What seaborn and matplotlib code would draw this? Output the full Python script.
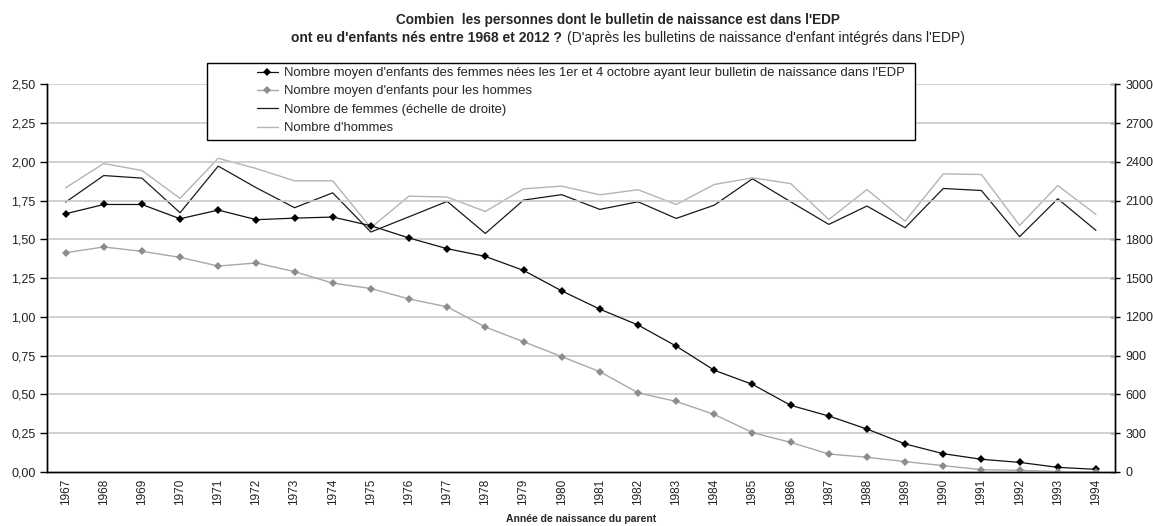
import numpy as np
import pandas as pd
import seaborn as sns
import matplotlib
matplotlib.use("Agg")
import matplotlib.pyplot as plt
import matplotlib.ticker as mtick
from matplotlib.patches import Rectangle

# ---------------------------------------------------------------------
# Data
# ---------------------------------------------------------------------
years = list(range(1967, 1995))

# average number of children (left axis)
women_mean = [1.665, 1.725, 1.725, 1.633, 1.689, 1.627, 1.637, 1.644, 1.588, 1.509,
              1.440, 1.390, 1.300, 1.168, 1.050, 0.948, 0.812, 0.656, 0.565, 0.430,
              0.361, 0.277, 0.181, 0.118, 0.082, 0.062, 0.030, 0.017]
men_mean = [1.414, 1.451, 1.423, 1.384, 1.328, 1.348, 1.292, 1.218, 1.183, 1.116,
            1.065, 0.935, 0.840, 0.744, 0.647, 0.511, 0.455, 0.371, 0.254, 0.191,
            0.116, 0.095, 0.067, 0.041, 0.015, 0.011, 0.003, 0.000]

# number of people (right axis)
women_count = [2088, 2294, 2274, 2006, 2367, 2199, 2045, 2160, 1857, 1975,
               2094, 1846, 2104, 2146, 2032, 2091, 1962, 2065, 2269, 2091,
               1916, 2058, 1890, 2194, 2178, 1821, 2114, 1870]
men_count = [2199, 2387, 2333, 2117, 2428, 2348, 2253, 2253, 1890, 2135,
             2127, 2016, 2191, 2212, 2145, 2184, 2070, 2225, 2276, 2232,
             1954, 2186, 1941, 2307, 2302, 1908, 2217, 1993]

labels = [
    "Nombre moyen d'enfants des femmes nées les 1er et 4 octobre ayant leur bulletin de naissance dans l'EDP",
    "Nombre moyen d'enfants pour les hommes",
    "Nombre de femmes (échelle de droite)",
    "Nombre d'hommes",
]

df = pd.DataFrame({
    "year": years,
    "women_mean": women_mean,
    "men_mean": men_mean,
    "women_count": women_count,
    "men_count": men_count,
})

# ---------------------------------------------------------------------
# Figure
# ---------------------------------------------------------------------
sns.set_style("white")
plt.rcParams["font.family"] = ["Liberation Sans", "DejaVu Sans"]

W, H = 1153, 526
fig = plt.figure(figsize=(W / 100, H / 100), dpi=100)
ax = fig.add_axes([46.5 / W, 1 - 472 / H, (1115 - 46.5) / W, (472 - 84.3) / H])
ax2 = ax.twinx()

# right axis series
sns.lineplot(data=df, x="year", y="women_count", ax=ax2, color="#1a1a1a",
             linewidth=0.9, label=labels[2], legend=False)
sns.lineplot(data=df, x="year", y="men_count", ax=ax2, color="#b4b4b4",
             linewidth=1.0, label=labels[3], legend=False)

# left axis series
sns.lineplot(data=df, x="year", y="women_mean", ax=ax, color="#111111",
             linewidth=0.9, marker="D", markersize=4, markeredgewidth=0,
             markerfacecolor="black", label=labels[0], legend=False)
sns.lineplot(data=df, x="year", y="men_mean", ax=ax, color="#a8a8a8",
             linewidth=1.0, marker="D", markersize=4, markeredgewidth=0,
             markerfacecolor="#8c8c8c", label=labels[1], legend=False)

# put the left axis (markers) above the twin axis
ax.set_zorder(ax2.get_zorder() + 1)
ax.patch.set_visible(False)

# Axis ranges / ticks
ax.set_xlim(1966.5, 1994.5)
ax.set_ylim(0, 2.5)
ax2.set_ylim(0, 3000)
ax.set_yticks(np.arange(0, 2.51, 0.25))
ax2.set_yticks(np.arange(0, 3001, 300))
ax.yaxis.set_major_formatter(mtick.FuncFormatter(lambda v, p: f"{v:.2f}".replace(".", ",")))

ax.set_xticks(years)
ax.set_xticklabels([str(y) for y in years], rotation=90)
ax.set_xticks(np.arange(1966.5, 1995, 1), minor=True)
ax.tick_params(axis="x", which="major", length=0, pad=5, labelsize=8.5, labelcolor="#222222")
ax.tick_params(axis="x", which="minor", length=5, width=1, direction="out", color="black")
ax.tick_params(axis="y", length=5, width=1, direction="out", color="black",
               labelsize=9, labelcolor="#222222", left=True, pad=3)
ax2.tick_params(axis="y", length=7, width=1, direction="inout", color="black",
                labelsize=9, labelcolor="#222222", right=True, pad=4)

# Grid
ax.yaxis.grid(True, color="#c8c8c8", linewidth=1.2)
ax.set_axisbelow(True)
ax2.grid(False)

# Spines
for a in (ax, ax2):
    a.spines["top"].set_visible(False)
    for s in ("left", "right", "bottom"):
        a.spines[s].set_color("black")
        a.spines[s].set_linewidth(1)

ax.set_ylabel("")
ax2.set_ylabel("")
ax.set_xlabel("Année de naissance du parent", fontsize=7.5, fontweight="bold", labelpad=6)

# Legend: white box with black border, entries indented
fig.add_artist(Rectangle((207 / W, 1 - 140 / H), (915 - 207) / W, 77 / H,
                         transform=fig.transFigure, facecolor="white",
                         edgecolor="black", linewidth=1, zorder=3))
h1, l1 = ax.get_legend_handles_labels()
h2, l2 = ax2.get_legend_handles_labels()
leg = fig.legend(h1 + h2, l1 + l2, loc="upper left",
                 bbox_to_anchor=(257 / W, 1 - 67 / H), frameon=False,
                 fontsize=9.35, handlelength=1.6, handletextpad=0.5,
                 labelspacing=0.48, borderpad=0, borderaxespad=0)
leg.set_zorder(4)

# Title (two lines, second line partly bold)
fig.text(618 / W, 1 - 20 / H,
         "Combien  les personnes dont le bulletin de naissance est dans l'EDP",
         ha="center", va="center", fontsize=9.8, fontweight="bold")
fig.text(562 / W, 1 - 38 / H, "ont eu d'enfants nés entre 1968 et 2012 ?",
         ha="right", va="center", fontsize=10, fontweight="bold")
fig.text(567 / W, 1 - 38 / H,
         "(D'après les bulletins de naissance d'enfant intégrés dans l'EDP)",
         ha="left", va="center", fontsize=10)

fig.savefig("out.png", dpi=100)
